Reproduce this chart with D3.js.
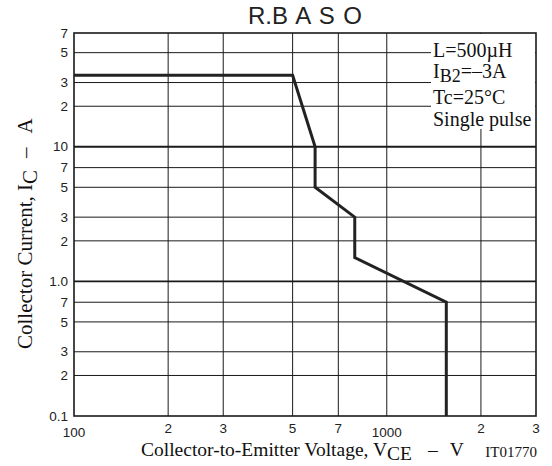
<!DOCTYPE html>
<html><head><meta charset="utf-8">
<script src="https://cdn.jsdelivr.net/npm/d3@7"></script>
<style>body{margin:0;background:#fff}svg{display:block}</style>
</head><body>
<svg id="c" width="552" height="466"></svg>
<script>
const xTicks = [100, 200, 300, 500, 700, 1000, 2000, 3000];
const xTickLabels = ["100", "2", "3", "5", "7", "1000", "2", "3"];
const yTicks = [0.1, 0.2, 0.3, 0.5, 0.7, 1, 2, 3, 5, 7, 10, 20, 30, 50, 70];
const yTickLabels = ["0.1", "2", "3", "5", "7", "1.0", "2", "3", "5", "7", "10", "2", "3", "5", "7"];
const vce = [100, 500, 590, 590, 790, 790, 1550, 1550];
const ic = [34, 34, 10, 5, 3, 1.5, 0.7, 0.1];
const legendLines = ["L=500\u00b5H", "IB2", "Tc=25\u00b0C", "Single pulse"];

const svg = d3.select("#c");
const L = 74, R = 536, T = 33, B = 416;
const x = d3.scaleLog().domain([100, 3000]).range([L, R]);
const y = d3.scaleLog().domain([0.1, 70]).range([B, T]);
const sans = "'Liberation Sans', Arial, sans-serif";
const serif = "'Liberation Serif', 'Times New Roman', serif";

// gridlines
svg.append("g").selectAll("line").data(xTicks.slice(1, -1)).join("line")
  .attr("x1", d => x(d)).attr("x2", d => x(d)).attr("y1", T).attr("y2", B)
  .attr("stroke", "#1a1a1a").attr("stroke-width", 1);
svg.append("g").selectAll("line").data(yTicks.slice(1, -1)).join("line")
  .attr("x1", L).attr("x2", R).attr("y1", d => y(d)).attr("y2", d => y(d))
  .attr("stroke", "#1a1a1a").attr("stroke-width", d => (d === 1 || d === 10) ? 1.9 : 1);

// legend box (white background)
svg.append("rect").attr("x", 431).attr("y", T + 1).attr("width", R - 431 - 1).attr("height", 95).attr("fill", "#fff");

// border
svg.append("rect").attr("x", L).attr("y", T).attr("width", R - L).attr("height", B - T)
  .attr("fill", "none").attr("stroke", "#1a1a1a").attr("stroke-width", 1.6);

// curve
const pts = vce.map((v, i) => [v, ic[i]]);
svg.append("path").datum(pts)
  .attr("d", d3.line().x(d => x(d[0])).y(d => y(d[1])))
  .attr("fill", "none").attr("stroke", "#222").attr("stroke-width", 3).attr("stroke-linejoin", "miter");

// y tick labels
svg.append("g").selectAll("text").data(yTicks).join("text")
  .attr("x", 68).attr("y", d => y(d)).attr("dy", "0.35em").attr("text-anchor", "end")
  .attr("font-family", sans).attr("font-size", 13.5).attr("fill", "#222")
  .text((d, i) => yTickLabels[i]);

// x tick labels
svg.append("g").selectAll("text").data(xTicks).join("text")
  .attr("x", d => x(d)).attr("y", (d, i) => (d === 100 || d === 1000) ? 437 : 433)
  .attr("text-anchor", "middle")
  .attr("font-family", sans).attr("font-size", 13.5).attr("fill", "#222")
  .text((d, i) => xTickLabels[i]);

// title
svg.append("text").attr("x", (L + R) / 2).attr("y", 24).attr("text-anchor", "middle")
  .attr("font-family", sans).attr("font-size", 24).attr("word-spacing", 2).attr("fill", "#222").text("R.B A S O");

// x axis title
const xt = svg.append("text").attr("x", 141).attr("y", 456)
  .attr("font-family", serif).attr("font-size", 19.5).attr("fill", "#111");
xt.append("tspan").text("Collector-to-Emitter Voltage, V");
xt.append("tspan").attr("dy", 4).text("CE");
xt.append("tspan").attr("dy", -4).attr("dx", 16).text("\u2013");
xt.append("tspan").attr("dx", 12).text("V");
svg.append("text").attr("x", 537).attr("y", 457).attr("text-anchor", "end")
  .attr("font-family", serif).attr("font-size", 15).attr("fill", "#111").text("IT01770");

// y axis title
const yt = svg.append("text").attr("transform", "translate(32,349) rotate(-90)")
  .attr("text-anchor", "start")
  .attr("font-family", serif).attr("font-size", 21).attr("fill", "#111");
yt.append("tspan").text("Collector Current, I");
yt.append("tspan").attr("dy", 5).text("C");
yt.append("tspan").attr("dy", -5).attr("dx", 12).text("\u2013");
yt.append("tspan").attr("dx", 14).text("A");

// legend
const lg = svg.append("g").attr("font-family", serif).attr("font-size", 20).attr("fill", "#111");
lg.append("text").attr("x", 433).attr("y", 57).text(legendLines[0]);
const l2 = lg.append("text").attr("x", 433).attr("y", 78);
l2.append("tspan").text("I");
l2.append("tspan").attr("dy", 3.5).attr("font-size", 18).text("B2");
l2.append("tspan").attr("dy", -3.5).text("=\u20133A");
lg.append("text").attr("x", 433).attr("y", 104).text(legendLines[2]);
lg.append("text").attr("x", 433).attr("y", 126).text(legendLines[3]);
</script>
</body></html>
